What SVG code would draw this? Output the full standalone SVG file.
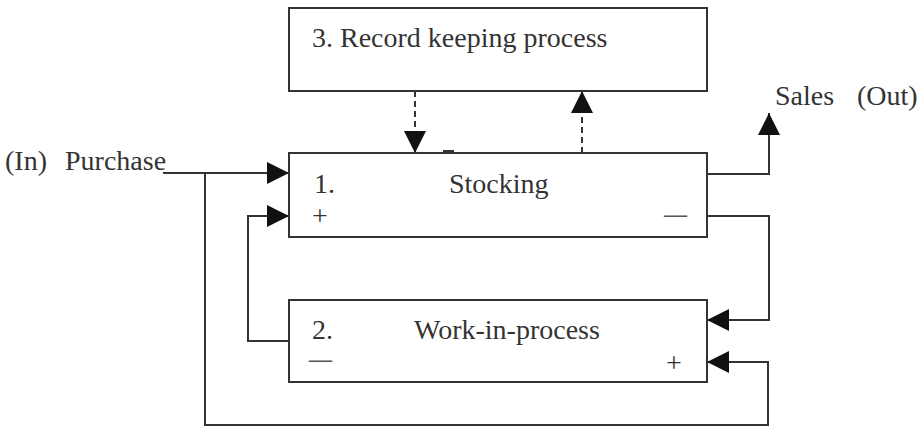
<svg xmlns="http://www.w3.org/2000/svg" width="922" height="428" viewBox="0 0 922 428">
<style>
.box{fill:#fff;stroke:#333;stroke-width:2}
.ln{fill:none;stroke:#333;stroke-width:2}
.dash{fill:none;stroke:#333;stroke-width:2;stroke-dasharray:6 4}
text{font-family:"Liberation Serif","Times New Roman",serif;font-size:28px;fill:#333}
.mn{font-size:23px;font-weight:bold;fill:#555}
</style>
<defs>
<marker id="ah" markerUnits="userSpaceOnUse" markerWidth="22" markerHeight="22" refX="22" refY="11" orient="auto">
<path d="M0,0 L22,11 L0,22 z" fill="#111"/>
</marker>
</defs>
<g id="connectors">
<path class="ln" d="M163,173 H289" marker-end="url(#ah)"/>
<path class="ln" d="M205,173 V425 H768 V362 H707" marker-end="url(#ah)"/>
<path class="ln" d="M289,341 H248 V216 H289" marker-end="url(#ah)"/>
<path class="ln" d="M707,174 H769 V113" marker-end="url(#ah)"/>
<path class="ln" d="M707,216 H769 V320 H707" marker-end="url(#ah)"/>
<path class="dash" d="M415,91 V153" marker-end="url(#ah)"/>
<path class="dash" d="M582,153 V91" marker-end="url(#ah)"/>
<path class="ln" d="M443,151 H454"/>
</g>
<g id="node-record">
<rect class="box" x="289" y="8" width="418" height="83"/>
<text x="312" y="47">3. Record keeping process</text>
</g>
<g id="node-stocking">
<rect class="box" x="289" y="153" width="418" height="84"/>
<text x="314" y="193">1.</text>
<text x="449" y="193">Stocking</text>
<text x="312" y="225">+</text>
<text class="mn" x="664" y="222">—</text>
</g>
<g id="node-wip">
<rect class="box" x="289" y="300" width="418" height="82"/>
<text x="312" y="339">2.</text>
<text x="414" y="339">Work-in-process</text>
<text class="mn" x="309" y="367">—</text>
<text x="666" y="372">+</text>
</g>
<g id="labels">
<text x="5" y="170">(In)<tspan x="65">Purchase</tspan></text>
<text x="775" y="105">Sales<tspan x="857">(Out)</tspan></text>
</g>
</svg>
